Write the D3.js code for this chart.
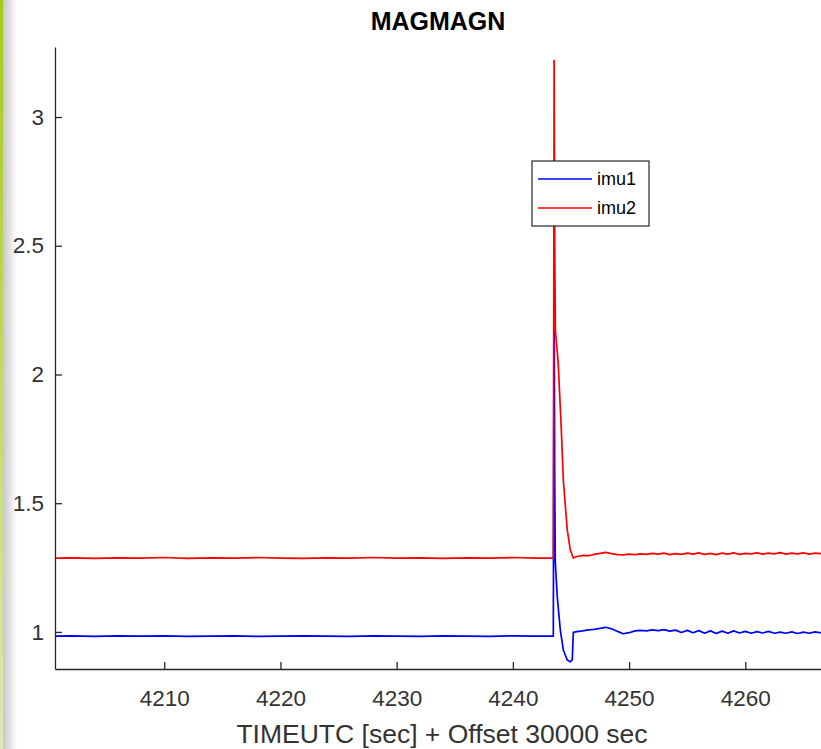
<!DOCTYPE html>
<html>
<head>
<meta charset="utf-8">
<script src="https://cdn.jsdelivr.net/npm/d3@7"></script>
<style>
  body { margin: 0; background: #fff; }
  svg { display: block; font-family: "Liberation Sans", Arial, Helvetica, sans-serif; }
</style>
</head>
<body>
<svg width="821" height="749"></svg>
<script>
// time [s] (offset 30000 s) and magnitude
var imu1Time = [4200.6, 4202, 4204, 4206, 4208, 4210, 4212, 4214, 4216, 4218, 4220, 4222, 4224, 4226, 4228,
  4230, 4232, 4234, 4236, 4238, 4240, 4242, 4243.48,
  4243.55, 4243.6, 4243.65, 4243.82, 4244.08, 4244.34, 4244.68, 4244.94, 4245.11, 4245.2,
  4245.5, 4246, 4246.5, 4247, 4247.5, 4248, 4248.5, 4249, 4249.5, 4250, 4250.5, 4251, 4251.5, 4252,
  4252.5, 4253, 4253.5, 4254, 4254.5, 4255, 4255.5, 4256, 4256.5, 4257, 4257.5, 4258, 4258.5, 4259,
  4259.5, 4260, 4260.5, 4261, 4261.5, 4262, 4262.5, 4263, 4263.5, 4264, 4264.5, 4265, 4265.5, 4266, 4266.6];
var imu1Mag = [0.984, 0.985, 0.983, 0.985, 0.984, 0.985, 0.983, 0.984, 0.985, 0.983, 0.984, 0.985, 0.984, 0.983, 0.985,
  0.984, 0.983, 0.985, 0.984, 0.983, 0.985, 0.984, 0.984,
  2.4, 1.6, 1.27, 1.136, 1.008, 0.93, 0.891, 0.884, 0.891, 0.998,
  1.001, 1.004, 1.008, 1.010, 1.014, 1.018, 1.012, 1.002, 0.993, 0.997, 1.004, 1.006, 1.004, 1.008,
  1.005, 1.009, 1.003, 1.007, 0.998, 1.006, 0.997, 1.005, 0.995, 1.004, 0.994, 1.003, 0.995, 1.004,
  0.996, 1.002, 0.995, 1.001, 0.996, 1.002, 0.995, 0.999, 0.995, 1.000, 0.994, 0.999, 0.995, 1.000, 0.996];

var imu2Time = [4200.6, 4202, 4204, 4206, 4208, 4210, 4212, 4214, 4216, 4218, 4220, 4222, 4224, 4226, 4228,
  4230, 4232, 4234, 4236, 4238, 4240, 4242, 4243.48,
  4243.55, 4243.6, 4243.66, 4243.9, 4244.17, 4244.34, 4244.68, 4244.94, 4245.2,
  4245.5, 4246, 4246.5, 4247, 4247.5, 4248, 4248.5, 4249, 4249.5, 4250, 4250.5, 4251, 4251.5, 4252,
  4252.5, 4253, 4253.5, 4254, 4254.5, 4255, 4255.5, 4256, 4256.5, 4257, 4257.5, 4258, 4258.5, 4259,
  4259.5, 4260, 4260.5, 4261, 4261.5, 4262, 4262.5, 4263, 4263.5, 4264, 4264.5, 4265, 4265.5, 4266, 4266.6];
var imu2Mag = [1.287, 1.288, 1.286, 1.288, 1.287, 1.289, 1.286, 1.288, 1.287, 1.289, 1.287, 1.286, 1.288, 1.287, 1.289,
  1.287, 1.288, 1.286, 1.288, 1.287, 1.289, 1.287, 1.287,
  3.22, 2.5, 2.17, 2.045, 1.784, 1.59, 1.396, 1.318, 1.287,
  1.293, 1.297, 1.296, 1.301, 1.305, 1.309, 1.304, 1.300, 1.299, 1.302, 1.300, 1.303, 1.301, 1.305,
  1.302, 1.306, 1.300, 1.304, 1.301, 1.306, 1.302, 1.307, 1.301, 1.305, 1.300, 1.306, 1.302, 1.307,
  1.301, 1.305, 1.303, 1.307, 1.302, 1.306, 1.303, 1.308, 1.302, 1.306, 1.303, 1.307, 1.302, 1.306, 1.304];

var xTicks = [4210, 4220, 4230, 4240, 4250, 4260];
var yTicks = [1, 1.5, 2, 2.5, 3];
var seriesNames = ["imu1", "imu2"];
var seriesColors = ["#0000ff", "#ff0000"];

var svg = d3.select("svg");
var ink = "#262626";

// left window edge: green strip + shadow
var defs = svg.append("defs");
var shade = defs.append("linearGradient").attr("id", "shade");
shade.append("stop").attr("offset", "0%").attr("stop-color", "#c4c4c4");
shade.append("stop").attr("offset", "100%").attr("stop-color", "#ffffff");
var green = defs.append("linearGradient").attr("id", "green").attr("x1", 0).attr("y1", 0).attr("x2", 0).attr("y2", 1);
green.append("stop").attr("offset", "0%").attr("stop-color", "#a4cb14");
green.append("stop").attr("offset", "100%").attr("stop-color", "#dbe9b8");
svg.append("rect").attr("x", 2).attr("y", 0).attr("width", 15).attr("height", 749).attr("fill", "url(#shade)");
svg.append("rect").attr("x", 0).attr("y", 0).attr("width", 3).attr("height", 749).attr("fill", "url(#green)");

var x = d3.scaleLinear().domain([4200.6, 4266.6]).range([55, 822]);
var y = d3.scaleLinear().domain([0.856, 3.272]).range([669, 47]);

defs.append("clipPath").attr("id", "plot")
  .append("rect").attr("x", 55).attr("y", 40).attr("width", 767).attr("height", 629);

function drawSeries(times, mags, color) {
  var pts = times.map(function(t, i) { return [t, mags[i]]; });
  svg.append("path")
    .datum(pts)
    .attr("clip-path", "url(#plot)")
    .attr("fill", "none")
    .attr("stroke", color)
    .attr("stroke-width", 1.7)
    .attr("stroke-linejoin", "round")
    .attr("d", d3.line().x(function(d) { return x(d[0]); }).y(function(d) { return y(d[1]); }));
}

drawSeries(imu1Time, imu1Mag, seriesColors[0]);
drawSeries(imu2Time, imu2Mag, seriesColors[1]);

// axes, ticks pointing inward, no box
var xAxis = svg.append("g").attr("transform", "translate(0,669)")
  .call(d3.axisBottom(x).tickValues(xTicks).tickFormat(d3.format("d")).tickSizeInner(-7).tickSizeOuter(0).tickPadding(21));
var yAxis = svg.append("g").attr("transform", "translate(55,0)")
  .call(d3.axisLeft(y).tickValues(yTicks).tickFormat(d3.format("")).tickSizeInner(-7).tickSizeOuter(0).tickPadding(11));

[xAxis, yAxis].forEach(function(g) {
  g.select(".domain").attr("stroke", ink).attr("stroke-width", 1.3);
  g.selectAll(".tick line").attr("stroke", ink).attr("stroke-width", 1.3);
  g.selectAll(".tick text").attr("fill", "#333").attr("font-size", 22.5).attr("font-family", null);
});

svg.append("text")
  .attr("x", 438).attr("y", 30)
  .attr("text-anchor", "middle")
  .attr("font-size", 25).attr("font-weight", "bold").attr("fill", "#000")
  .text("MAGMAGN");

svg.append("text")
  .attr("x", 442).attr("y", 743)
  .attr("text-anchor", "middle")
  .attr("font-size", 26.5).attr("fill", "#333")
  .text("TIMEUTC [sec] + Offset 30000 sec");

// legend
var legend = svg.append("g");
legend.append("rect")
  .attr("x", 532).attr("y", 161).attr("width", 117).attr("height", 65)
  .attr("fill", "#fff").attr("stroke", ink).attr("stroke-width", 1.2);
seriesNames.forEach(function(name, i) {
  var ly = 179 + i * 29;
  legend.append("line")
    .attr("x1", 538).attr("x2", 592).attr("y1", ly).attr("y2", ly)
    .attr("stroke", seriesColors[i]).attr("stroke-width", 1.5);
  legend.append("text")
    .attr("x", 597).attr("y", ly).attr("dy", "0.35em")
    .attr("font-size", 18).attr("fill", "#000")
    .text(name);
});
</script>
</body>
</html>
